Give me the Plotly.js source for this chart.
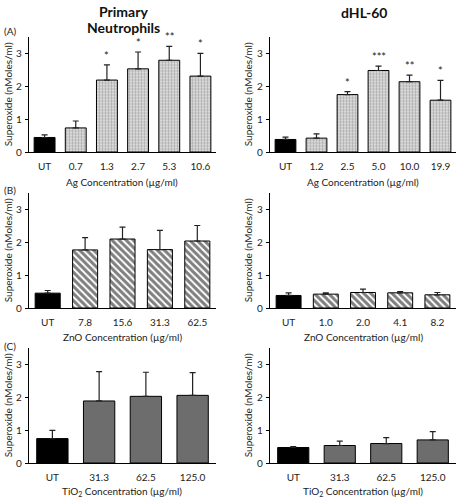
<!DOCTYPE html>
<html>
<head>
<meta charset="utf-8">
<script src="https://cdn.plot.ly/plotly-3.0.1.min.js"></script>
<style>html,body{margin:0;padding:0;background:#fff}#chart{width:457px;height:500px}</style>
</head>
<body>
<div id="chart"></div>
<script>
// ---- data ----
const agNeutCats = ['UT', '0.7', '1.3', '2.7', '5.3', '10.6'];
const agNeutVals = [0.44, 0.73, 2.18, 2.52, 2.78, 2.30];
const agNeutErrTop = [0.52, 0.94, 2.64, 3.03, 3.20, 2.99];
const agNeutSig = ['', '', '*', '*', '**', '*'];

const agHLCats = ['UT', '1.2', '2.5', '5.0', '10.0', '19.9'];
const agHLVals = [0.38, 0.42, 1.74, 2.47, 2.13, 1.57];
const agHLErrTop = [0.45, 0.55, 1.83, 2.60, 2.33, 2.17];
const agHLSig = ['', '', '*', '***', '**', '*'];

const znNeutCats = ['UT', '7.8', '15.6', '31.3', '62.5'];
const znNeutVals = [0.45, 1.76, 2.09, 1.77, 2.03];
const znNeutErrTop = [0.53, 2.13, 2.45, 2.35, 2.50];

const znHLCats = ['UT', '1.0', '2.0', '4.1', '8.2'];
const znHLVals = [0.38, 0.42, 0.47, 0.46, 0.40];
const znHLErrTop = [0.46, 0.46, 0.57, 0.50, 0.47];

const tiNeutCats = ['UT', '31.3', '62.5', '125.0'];
const tiNeutVals = [0.74, 1.88, 2.02, 2.05];
const tiNeutErrTop = [0.99, 2.77, 2.75, 2.74];

const tiHLCats = ['UT', '31.3', '62.5', '125.0'];
const tiHLVals = [0.47, 0.53, 0.59, 0.70];
const tiHLErrTop = [0.50, 0.66, 0.77, 0.95];

const yTicks = [0, 1, 2, 3];
const yTitle = 'Superoxide (nMoles/ml)';
const xTitles = ['Ag Concentration (µg/ml)', 'ZnO Concentration (µg/ml)', 'TiO<sub>2</sub> Concentration (µg/ml)'];
const colTitleLines = [['<b>Primary</b>', '<b>Neutrophils</b>'], ['<b>dHL-60</b>']];
const panelLabels = ['(A)', '(B)', '(C)'];

// ---- styles ----
const W = 457, H = 500;
const FONT = 'Lato, "Open Sans", sans-serif';
const TXT = '#222';
const xDomL = [29 / W, 216 / W], xDomR = [270 / W, 456 / W];
const yDoms = [[1 - 152 / H, 1 - 36.5 / H], [1 - 308 / H, 1 - 192.5 / H], [1 - 463 / H, 1 - 347.5 / H]];

function errOf(vals, errTop) {
  return {type: 'data', symmetric: false, array: errTop.map((e, i) => e - vals[i]),
          arrayminus: vals.map(() => 0), color: '#222', thickness: 1.2, width: 3};
}

function makeTraces(cats, vals, errTop, kind, sfx) {
  const xa = 'x' + sfx, ya = 'y' + sfx;
  const ctrl = {
    type: 'bar', x: cats.slice(0, 1), y: vals.slice(0, 1), width: 0.67, xaxis: xa, yaxis: ya,
    marker: {color: '#000', line: {color: '#000', width: 1}},
    error_y: errOf(vals.slice(0, 1), errTop.slice(0, 1)), showlegend: false, hoverinfo: 'skip'
  };
  let marker;
  if (kind === 'dots') marker = {color: '#e8e8e8', line: {color: '#000', width: 1},
    pattern: {shape: '.', fgcolor: '#6e6e6e', bgcolor: '#e8e8e8', size: 3, solidity: 0.5, fillmode: 'overlay'}};
  else if (kind === 'stripes') marker = {color: '#ffffff', line: {color: '#000', width: 1},
    pattern: {shape: '\\', fgcolor: '#000000', bgcolor: '#ffffff', size: 5, solidity: 0.6, fillmode: 'overlay'}};
  else marker = {color: '#6d6d6d', line: {color: '#000', width: 1}};
  const trt = {
    type: 'bar', x: cats.slice(1), y: vals.slice(1), width: 0.67, xaxis: xa, yaxis: ya,
    marker: marker, error_y: errOf(vals.slice(1), errTop.slice(1)), showlegend: false, hoverinfo: 'skip'
  };
  return [ctrl, trt];
}

const traces = [].concat(
  makeTraces(agNeutCats, agNeutVals, agNeutErrTop, 'dots', ''),
  makeTraces(agHLCats, agHLVals, agHLErrTop, 'dots', '2'),
  makeTraces(znNeutCats, znNeutVals, znNeutErrTop, 'stripes', '3'),
  makeTraces(znHLCats, znHLVals, znHLErrTop, 'stripes', '4'),
  makeTraces(tiNeutCats, tiNeutVals, tiNeutErrTop, 'gray', '5'),
  makeTraces(tiHLCats, tiHLVals, tiHLErrTop, 'gray', '6')
);

const layout = {
  width: W, height: H, margin: {l: 0, r: 0, t: 0, b: 0},
  paper_bgcolor: '#fff', plot_bgcolor: 'rgba(0,0,0,0)',
  font: {family: FONT, size: 10, color: TXT},
  barmode: 'overlay', annotations: []
};

const catsList = [agNeutCats, agHLCats, znNeutCats, znHLCats, tiNeutCats, tiHLCats];
for (let k = 0; k < 6; k++) {
  const row = Math.floor(k / 2), col = k % 2;
  const sfx = k === 0 ? '' : String(k + 1);
  layout['xaxis' + sfx] = {
    type: 'category', domain: col === 0 ? xDomL : xDomR, anchor: 'y' + sfx,
    categoryorder: 'array', categoryarray: catsList[k],
    range: [-0.5, catsList[k].length - 0.5], showline: true, linecolor: '#000', linewidth: 1.2,
    ticks: '', showgrid: false, zeroline: false, fixedrange: true,
    tickfont: {family: FONT, size: 10, color: TXT}, ticklabelstandoff: 5
  };
  layout['yaxis' + sfx] = {
    domain: yDoms[row], anchor: 'x' + sfx, range: [0, 3.5],
    tickvals: yTicks, ticktext: yTicks.map(String), showline: true, linecolor: '#000', linewidth: 1.2,
    ticks: 'outside', ticklen: 3, tickcolor: '#000', showgrid: false, zeroline: false, fixedrange: true,
    tickfont: {family: FONT, size: 10, color: TXT}, ticklabelstandoff: 1
  };
  layout.annotations.push({
    xref: 'paper', yref: 'paper', x: (col === 0 ? 8 : 248) / W, y: (yDoms[row][0] + yDoms[row][1]) / 2,
    text: yTitle, textangle: -90, showarrow: false, xanchor: 'center', yanchor: 'middle',
    font: {family: FONT, size: 10, color: TXT}
  });
  const xt = [182, 337, 491][row];
  layout.annotations.push({
    xref: 'paper', yref: 'paper', x: ((col === 0 ? 29 : 270) + 93) / W, y: 1 - xt / H,
    text: xTitles[row], showarrow: false, xanchor: 'center', yanchor: 'middle',
    font: {family: FONT, size: 10, color: TXT}
  });
}

// significance stars (x given as category index on the category axis)
function stars(cats, errTop, sig, sfx) {
  sig.forEach((s, i) => {
    if (!s) return;
    layout.annotations.push({
      xref: 'x' + sfx, yref: 'y' + sfx, x: i, y: errTop[i], text: s, showarrow: false,
      xanchor: 'center', yanchor: 'bottom', yshift: 1, font: {family: FONT, size: 11, color: TXT}
    });
  });
}
stars(agNeutCats, agNeutErrTop, agNeutSig, '');
stars(agHLCats, agHLErrTop, agHLSig, '2');

// column titles, one annotation per line
[[123, [11, 27]], [364, [12]]].forEach(([cx, ys], c) => {
  ys.forEach((py, j) => {
    layout.annotations.push({xref: 'paper', yref: 'paper', x: cx / W, y: 1 - py / H, text: colTitleLines[c][j],
      showarrow: false, xanchor: 'center', yanchor: 'middle', font: {family: FONT, size: 14, color: '#111'}});
  });
});
[31, 190, 346].forEach((py, i) => {
  layout.annotations.push({xref: 'paper', yref: 'paper', x: 2 / W, y: 1 - py / H, text: panelLabels[i],
    showarrow: false, xanchor: 'left', yanchor: 'middle', font: {family: FONT, size: 10, color: TXT}});
});

Plotly.newPlot('chart', traces, layout, {displayModeBar: false, staticPlot: true});
</script>
</body>
</html>
